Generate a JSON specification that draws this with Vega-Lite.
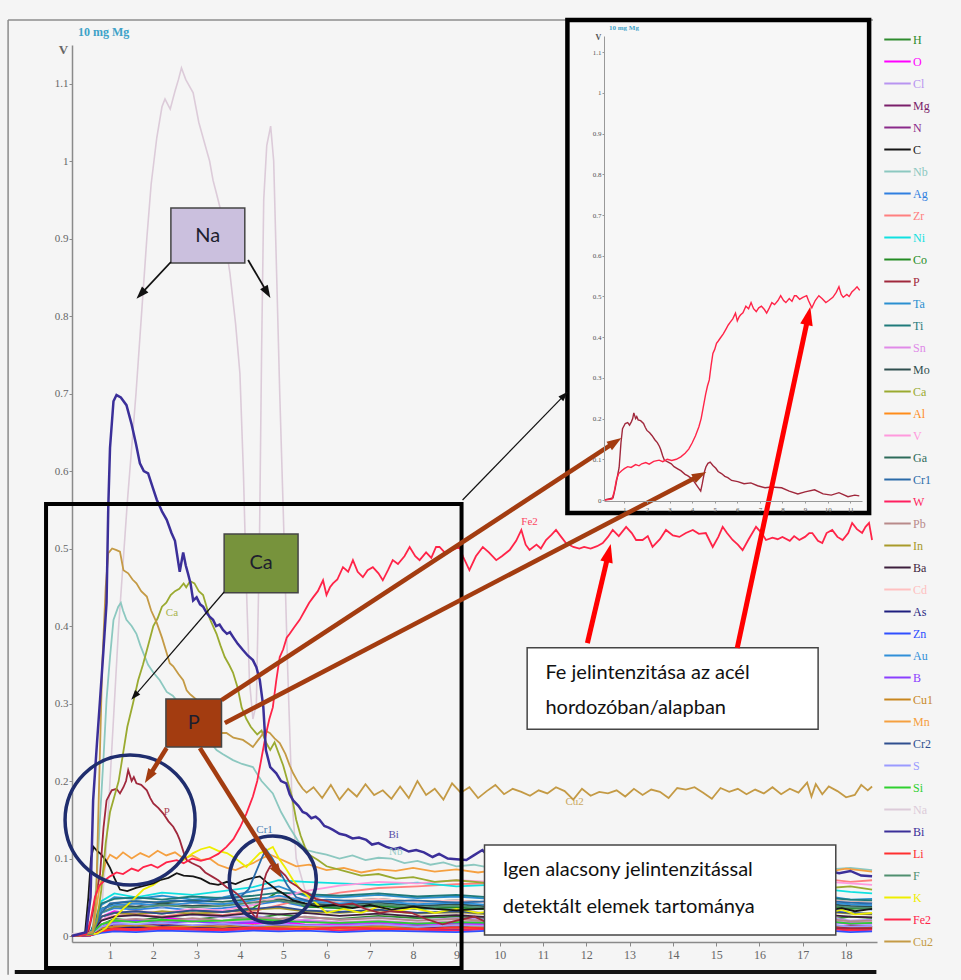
{
"$schema":"https://vega.github.io/schema/vega-lite/v6.json",
"width":805,"height":897,
"autosize":{"type":"none"},
"padding":{"left":72,"top":45,"right":84,"bottom":38},
"background":"#f5f5f5",
"config":{"view":{"stroke":null}},
"datasets":{
"profiles":[
{"el":"H","x":0.12,"v":0},{"el":"H","x":0.55,"v":0.002},{"el":"H","x":0.8,"v":0.015},{"el":"H","x":1.1,"v":0.022},{"el":"H","x":1.6,"v":0.02},{"el":"H","x":2.2,"v":0.024},{"el":"H","x":2.9,"v":0.021},{"el":"H","x":3.6,"v":0.025},{"el":"H","x":4.3,"v":0.022},{"el":"H","x":4.9,"v":0.028},{"el":"H","x":5.5,"v":0.024},{"el":"H","x":6.3,"v":0.022},{"el":"H","x":7.2,"v":0.026},{"el":"H","x":8.1,"v":0.023},{"el":"H","x":9.0,"v":0.025},{"el":"H","x":9.8,"v":0.022},{"el":"H","x":13.5,"v":0.024},{"el":"H","x":17.6,"v":0.021},{"el":"H","x":18.1,"v":0.025},{"el":"H","x":18.6,"v":0.023},
{"el":"O","x":0.12,"v":0},{"el":"O","x":0.55,"v":0.005},{"el":"O","x":0.8,"v":0.025},{"el":"O","x":1.1,"v":0.032},{"el":"O","x":1.6,"v":0.028},{"el":"O","x":2.2,"v":0.024},{"el":"O","x":2.9,"v":0.02},{"el":"O","x":3.6,"v":0.018},{"el":"O","x":4.3,"v":0.016},{"el":"O","x":4.9,"v":0.018},{"el":"O","x":5.5,"v":0.015},{"el":"O","x":6.3,"v":0.014},{"el":"O","x":7.2,"v":0.016},{"el":"O","x":8.1,"v":0.013},{"el":"O","x":9.0,"v":0.015},{"el":"O","x":9.8,"v":0.014},{"el":"O","x":13.5,"v":0.013},{"el":"O","x":17.6,"v":0.012},{"el":"O","x":18.1,"v":0.014},{"el":"O","x":18.6,"v":0.012},
{"el":"Cl","x":0.12,"v":0},{"el":"Cl","x":0.55,"v":0.003},{"el":"Cl","x":0.8,"v":0.02},{"el":"Cl","x":1.1,"v":0.03},{"el":"Cl","x":1.6,"v":0.027},{"el":"Cl","x":2.2,"v":0.025},{"el":"Cl","x":2.9,"v":0.028},{"el":"Cl","x":3.6,"v":0.024},{"el":"Cl","x":4.3,"v":0.026},{"el":"Cl","x":4.9,"v":0.022},{"el":"Cl","x":5.5,"v":0.025},{"el":"Cl","x":6.3,"v":0.021},{"el":"Cl","x":7.2,"v":0.024},{"el":"Cl","x":8.1,"v":0.02},{"el":"Cl","x":9.0,"v":0.023},{"el":"Cl","x":9.8,"v":0.021},{"el":"Cl","x":13.5,"v":0.022},{"el":"Cl","x":17.6,"v":0.024},{"el":"Cl","x":18.1,"v":0.02},{"el":"Cl","x":18.6,"v":0.021},
{"el":"Mg","x":0.12,"v":0},{"el":"Mg","x":0.55,"v":0.002},{"el":"Mg","x":0.8,"v":0.01},{"el":"Mg","x":1.1,"v":0.015},{"el":"Mg","x":1.6,"v":0.014},{"el":"Mg","x":2.2,"v":0.016},{"el":"Mg","x":2.9,"v":0.013},{"el":"Mg","x":3.6,"v":0.015},{"el":"Mg","x":4.3,"v":0.012},{"el":"Mg","x":4.9,"v":0.014},{"el":"Mg","x":5.5,"v":0.013},{"el":"Mg","x":6.3,"v":0.012},{"el":"Mg","x":7.2,"v":0.014},{"el":"Mg","x":8.1,"v":0.011},{"el":"Mg","x":9.0,"v":0.013},{"el":"Mg","x":9.8,"v":0.012},{"el":"Mg","x":13.5,"v":0.012},{"el":"Mg","x":17.6,"v":0.011},{"el":"Mg","x":18.1,"v":0.013},{"el":"Mg","x":18.6,"v":0.012},
{"el":"N","x":0.12,"v":0},{"el":"N","x":0.55,"v":0.001},{"el":"N","x":0.8,"v":0.006},{"el":"N","x":1.1,"v":0.01},{"el":"N","x":1.6,"v":0.009},{"el":"N","x":2.2,"v":0.011},{"el":"N","x":2.9,"v":0.01},{"el":"N","x":3.6,"v":0.008},{"el":"N","x":4.3,"v":0.01},{"el":"N","x":4.9,"v":0.009},{"el":"N","x":5.5,"v":0.011},{"el":"N","x":6.3,"v":0.008},{"el":"N","x":7.2,"v":0.01},{"el":"N","x":8.1,"v":0.009},{"el":"N","x":9.0,"v":0.008},{"el":"N","x":9.8,"v":0.01},{"el":"N","x":13.5,"v":0.009},{"el":"N","x":17.6,"v":0.01},{"el":"N","x":18.1,"v":0.008},{"el":"N","x":18.6,"v":0.009},
{"el":"Ag","x":0.12,"v":0},{"el":"Ag","x":0.55,"v":0.003},{"el":"Ag","x":0.8,"v":0.03},{"el":"Ag","x":1.1,"v":0.036},{"el":"Ag","x":1.6,"v":0.034},{"el":"Ag","x":2.2,"v":0.037},{"el":"Ag","x":2.9,"v":0.033},{"el":"Ag","x":3.6,"v":0.036},{"el":"Ag","x":4.3,"v":0.04},{"el":"Ag","x":4.9,"v":0.045},{"el":"Ag","x":5.5,"v":0.038},{"el":"Ag","x":6.3,"v":0.036},{"el":"Ag","x":7.2,"v":0.039},{"el":"Ag","x":8.1,"v":0.035},{"el":"Ag","x":9.0,"v":0.037},{"el":"Ag","x":9.8,"v":0.034},{"el":"Ag","x":13.5,"v":0.036},{"el":"Ag","x":17.6,"v":0.035},{"el":"Ag","x":18.1,"v":0.037},{"el":"Ag","x":18.6,"v":0.034},
{"el":"Zr","x":0.12,"v":0},{"el":"Zr","x":0.55,"v":0.002},{"el":"Zr","x":0.8,"v":0.02},{"el":"Zr","x":1.1,"v":0.026},{"el":"Zr","x":1.6,"v":0.028},{"el":"Zr","x":2.2,"v":0.025},{"el":"Zr","x":2.9,"v":0.03},{"el":"Zr","x":3.6,"v":0.027},{"el":"Zr","x":4.3,"v":0.032},{"el":"Zr","x":4.9,"v":0.04},{"el":"Zr","x":5.5,"v":0.048},{"el":"Zr","x":6.3,"v":0.056},{"el":"Zr","x":7.2,"v":0.062},{"el":"Zr","x":8.1,"v":0.064},{"el":"Zr","x":9.0,"v":0.067},{"el":"Zr","x":9.8,"v":0.068},{"el":"Zr","x":13.5,"v":0.07},{"el":"Zr","x":17.6,"v":0.073},{"el":"Zr","x":18.1,"v":0.07},{"el":"Zr","x":18.6,"v":0.072},
{"el":"Ni","x":0.12,"v":0},{"el":"Ni","x":0.55,"v":0.004},{"el":"Ni","x":0.8,"v":0.045},{"el":"Ni","x":1.1,"v":0.055},{"el":"Ni","x":1.6,"v":0.05},{"el":"Ni","x":2.2,"v":0.056},{"el":"Ni","x":2.9,"v":0.053},{"el":"Ni","x":3.6,"v":0.058},{"el":"Ni","x":4.3,"v":0.063},{"el":"Ni","x":4.9,"v":0.072},{"el":"Ni","x":5.5,"v":0.07},{"el":"Ni","x":6.3,"v":0.068},{"el":"Ni","x":7.2,"v":0.066},{"el":"Ni","x":8.1,"v":0.069},{"el":"Ni","x":9.0,"v":0.064},{"el":"Ni","x":9.8,"v":0.066},{"el":"Ni","x":13.5,"v":0.062},{"el":"Ni","x":17.6,"v":0.06},{"el":"Ni","x":18.1,"v":0.057},{"el":"Ni","x":18.6,"v":0.055},
{"el":"Co","x":0.12,"v":0},{"el":"Co","x":0.55,"v":0.003},{"el":"Co","x":0.8,"v":0.025},{"el":"Co","x":1.1,"v":0.03},{"el":"Co","x":1.6,"v":0.032},{"el":"Co","x":2.2,"v":0.029},{"el":"Co","x":2.9,"v":0.033},{"el":"Co","x":3.6,"v":0.031},{"el":"Co","x":4.3,"v":0.036},{"el":"Co","x":4.9,"v":0.058},{"el":"Co","x":5.5,"v":0.038},{"el":"Co","x":6.3,"v":0.036},{"el":"Co","x":7.2,"v":0.039},{"el":"Co","x":8.1,"v":0.035},{"el":"Co","x":9.0,"v":0.037},{"el":"Co","x":9.8,"v":0.034},{"el":"Co","x":13.5,"v":0.036},{"el":"Co","x":17.6,"v":0.038},{"el":"Co","x":18.1,"v":0.035},{"el":"Co","x":18.6,"v":0.036},
{"el":"Ta","x":0.12,"v":0},{"el":"Ta","x":0.55,"v":0.004},{"el":"Ta","x":0.8,"v":0.04},{"el":"Ta","x":1.1,"v":0.05},{"el":"Ta","x":1.6,"v":0.048},{"el":"Ta","x":2.2,"v":0.052},{"el":"Ta","x":2.9,"v":0.047},{"el":"Ta","x":3.6,"v":0.05},{"el":"Ta","x":4.3,"v":0.058},{"el":"Ta","x":4.9,"v":0.064},{"el":"Ta","x":5.5,"v":0.052},{"el":"Ta","x":6.3,"v":0.05},{"el":"Ta","x":7.2,"v":0.053},{"el":"Ta","x":8.1,"v":0.049},{"el":"Ta","x":9.0,"v":0.051},{"el":"Ta","x":9.8,"v":0.048},{"el":"Ta","x":13.5,"v":0.05},{"el":"Ta","x":17.6,"v":0.051},{"el":"Ta","x":18.1,"v":0.047},{"el":"Ta","x":18.6,"v":0.048},
{"el":"Ti","x":0.12,"v":0},{"el":"Ti","x":0.55,"v":0.004},{"el":"Ti","x":0.8,"v":0.042},{"el":"Ti","x":1.1,"v":0.048},{"el":"Ti","x":1.6,"v":0.05},{"el":"Ti","x":2.2,"v":0.047},{"el":"Ti","x":2.9,"v":0.051},{"el":"Ti","x":3.6,"v":0.049},{"el":"Ti","x":4.3,"v":0.052},{"el":"Ti","x":4.9,"v":0.056},{"el":"Ti","x":5.5,"v":0.054},{"el":"Ti","x":6.3,"v":0.052},{"el":"Ti","x":7.2,"v":0.055},{"el":"Ti","x":8.1,"v":0.051},{"el":"Ti","x":9.0,"v":0.053},{"el":"Ti","x":9.8,"v":0.05},{"el":"Ti","x":13.5,"v":0.052},{"el":"Ti","x":17.6,"v":0.049},{"el":"Ti","x":18.1,"v":0.047},{"el":"Ti","x":18.6,"v":0.046},
{"el":"Sn","x":0.12,"v":0},{"el":"Sn","x":0.55,"v":0.002},{"el":"Sn","x":0.8,"v":0.015},{"el":"Sn","x":1.1,"v":0.02},{"el":"Sn","x":1.6,"v":0.022},{"el":"Sn","x":2.2,"v":0.019},{"el":"Sn","x":2.9,"v":0.021},{"el":"Sn","x":3.6,"v":0.018},{"el":"Sn","x":4.3,"v":0.02},{"el":"Sn","x":4.9,"v":0.019},{"el":"Sn","x":5.5,"v":0.021},{"el":"Sn","x":6.3,"v":0.018},{"el":"Sn","x":7.2,"v":0.02},{"el":"Sn","x":8.1,"v":0.017},{"el":"Sn","x":9.0,"v":0.019},{"el":"Sn","x":9.8,"v":0.018},{"el":"Sn","x":13.5,"v":0.019},{"el":"Sn","x":17.6,"v":0.02},{"el":"Sn","x":18.1,"v":0.017},{"el":"Sn","x":18.6,"v":0.018},
{"el":"Mo","x":0.12,"v":0},{"el":"Mo","x":0.55,"v":0.003},{"el":"Mo","x":0.8,"v":0.035},{"el":"Mo","x":1.1,"v":0.04},{"el":"Mo","x":1.6,"v":0.038},{"el":"Mo","x":2.2,"v":0.042},{"el":"Mo","x":2.9,"v":0.039},{"el":"Mo","x":3.6,"v":0.041},{"el":"Mo","x":4.3,"v":0.044},{"el":"Mo","x":4.9,"v":0.048},{"el":"Mo","x":5.5,"v":0.042},{"el":"Mo","x":6.3,"v":0.04},{"el":"Mo","x":7.2,"v":0.043},{"el":"Mo","x":8.1,"v":0.039},{"el":"Mo","x":9.0,"v":0.041},{"el":"Mo","x":9.8,"v":0.038},{"el":"Mo","x":13.5,"v":0.04},{"el":"Mo","x":17.6,"v":0.041},{"el":"Mo","x":18.1,"v":0.039},{"el":"Mo","x":18.6,"v":0.038},
{"el":"Al","x":0.12,"v":0},{"el":"Al","x":0.55,"v":0.002},{"el":"Al","x":0.8,"v":0.008},{"el":"Al","x":1.1,"v":0.01},{"el":"Al","x":1.6,"v":0.012},{"el":"Al","x":2.2,"v":0.009},{"el":"Al","x":2.9,"v":0.011},{"el":"Al","x":3.6,"v":0.01},{"el":"Al","x":4.3,"v":0.012},{"el":"Al","x":4.9,"v":0.01},{"el":"Al","x":5.5,"v":0.011},{"el":"Al","x":6.3,"v":0.009},{"el":"Al","x":7.2,"v":0.011},{"el":"Al","x":8.1,"v":0.01},{"el":"Al","x":9.0,"v":0.012},{"el":"Al","x":9.8,"v":0.009},{"el":"Al","x":13.5,"v":0.011},{"el":"Al","x":17.6,"v":0.012},{"el":"Al","x":18.1,"v":0.01},{"el":"Al","x":18.6,"v":0.01},
{"el":"V","x":0.12,"v":0},{"el":"V","x":0.55,"v":0.002},{"el":"V","x":0.8,"v":0.02},{"el":"V","x":1.1,"v":0.03},{"el":"V","x":1.6,"v":0.032},{"el":"V","x":2.2,"v":0.03},{"el":"V","x":2.9,"v":0.035},{"el":"V","x":3.6,"v":0.033},{"el":"V","x":4.3,"v":0.04},{"el":"V","x":4.9,"v":0.05},{"el":"V","x":5.5,"v":0.058},{"el":"V","x":6.3,"v":0.065},{"el":"V","x":7.2,"v":0.07},{"el":"V","x":8.1,"v":0.068},{"el":"V","x":9.0,"v":0.072},{"el":"V","x":9.8,"v":0.07},{"el":"V","x":13.5,"v":0.072},{"el":"V","x":17.6,"v":0.07},{"el":"V","x":18.1,"v":0.068},{"el":"V","x":18.6,"v":0.066},
{"el":"Ga","x":0.12,"v":0},{"el":"Ga","x":0.55,"v":0.003},{"el":"Ga","x":0.8,"v":0.035},{"el":"Ga","x":1.1,"v":0.042},{"el":"Ga","x":1.6,"v":0.045},{"el":"Ga","x":2.2,"v":0.043},{"el":"Ga","x":2.9,"v":0.046},{"el":"Ga","x":3.6,"v":0.044},{"el":"Ga","x":4.3,"v":0.048},{"el":"Ga","x":4.9,"v":0.05},{"el":"Ga","x":5.5,"v":0.047},{"el":"Ga","x":6.3,"v":0.045},{"el":"Ga","x":7.2,"v":0.048},{"el":"Ga","x":8.1,"v":0.044},{"el":"Ga","x":9.0,"v":0.046},{"el":"Ga","x":9.8,"v":0.043},{"el":"Ga","x":13.5,"v":0.045},{"el":"Ga","x":17.6,"v":0.046},{"el":"Ga","x":18.1,"v":0.044},{"el":"Ga","x":18.6,"v":0.043},
{"el":"W","x":0.12,"v":0},{"el":"W","x":0.55,"v":0.001},{"el":"W","x":0.8,"v":0.005},{"el":"W","x":1.1,"v":0.008},{"el":"W","x":1.6,"v":0.007},{"el":"W","x":2.2,"v":0.009},{"el":"W","x":2.9,"v":0.008},{"el":"W","x":3.6,"v":0.007},{"el":"W","x":4.3,"v":0.009},{"el":"W","x":4.9,"v":0.008},{"el":"W","x":5.5,"v":0.01},{"el":"W","x":6.3,"v":0.007},{"el":"W","x":7.2,"v":0.009},{"el":"W","x":8.1,"v":0.008},{"el":"W","x":9.0,"v":0.007},{"el":"W","x":9.8,"v":0.009},{"el":"W","x":13.5,"v":0.008},{"el":"W","x":17.6,"v":0.009},{"el":"W","x":18.1,"v":0.007},{"el":"W","x":18.6,"v":0.008},
{"el":"Pb","x":0.12,"v":0},{"el":"Pb","x":0.55,"v":0.002},{"el":"Pb","x":0.8,"v":0.015},{"el":"Pb","x":1.1,"v":0.02},{"el":"Pb","x":1.6,"v":0.022},{"el":"Pb","x":2.2,"v":0.019},{"el":"Pb","x":2.9,"v":0.023},{"el":"Pb","x":3.6,"v":0.02},{"el":"Pb","x":4.3,"v":0.024},{"el":"Pb","x":4.9,"v":0.022},{"el":"Pb","x":5.5,"v":0.025},{"el":"Pb","x":6.3,"v":0.021},{"el":"Pb","x":7.2,"v":0.023},{"el":"Pb","x":8.1,"v":0.02},{"el":"Pb","x":9.0,"v":0.022},{"el":"Pb","x":9.8,"v":0.019},{"el":"Pb","x":13.5,"v":0.021},{"el":"Pb","x":17.6,"v":0.022},{"el":"Pb","x":18.1,"v":0.019},{"el":"Pb","x":18.6,"v":0.02},
{"el":"In","x":0.12,"v":0},{"el":"In","x":0.55,"v":0.003},{"el":"In","x":0.8,"v":0.025},{"el":"In","x":1.1,"v":0.03},{"el":"In","x":1.6,"v":0.028},{"el":"In","x":2.2,"v":0.032},{"el":"In","x":2.9,"v":0.029},{"el":"In","x":3.6,"v":0.031},{"el":"In","x":4.3,"v":0.034},{"el":"In","x":4.9,"v":0.036},{"el":"In","x":5.5,"v":0.032},{"el":"In","x":6.3,"v":0.03},{"el":"In","x":7.2,"v":0.033},{"el":"In","x":8.1,"v":0.029},{"el":"In","x":9.0,"v":0.031},{"el":"In","x":9.8,"v":0.028},{"el":"In","x":13.5,"v":0.03},{"el":"In","x":17.6,"v":0.031},{"el":"In","x":18.1,"v":0.029},{"el":"In","x":18.6,"v":0.028},
{"el":"Ba","x":0.12,"v":0},{"el":"Ba","x":0.55,"v":0.002},{"el":"Ba","x":0.8,"v":0.02},{"el":"Ba","x":1.1,"v":0.025},{"el":"Ba","x":1.6,"v":0.027},{"el":"Ba","x":2.2,"v":0.024},{"el":"Ba","x":2.9,"v":0.028},{"el":"Ba","x":3.6,"v":0.026},{"el":"Ba","x":4.3,"v":0.03},{"el":"Ba","x":4.9,"v":0.028},{"el":"Ba","x":5.5,"v":0.03},{"el":"Ba","x":6.3,"v":0.026},{"el":"Ba","x":7.2,"v":0.029},{"el":"Ba","x":8.1,"v":0.025},{"el":"Ba","x":9.0,"v":0.027},{"el":"Ba","x":9.8,"v":0.024},{"el":"Ba","x":13.5,"v":0.026},{"el":"Ba","x":17.6,"v":0.027},{"el":"Ba","x":18.1,"v":0.025},{"el":"Ba","x":18.6,"v":0.024},
{"el":"Cd","x":0.12,"v":0},{"el":"Cd","x":0.55,"v":0.003},{"el":"Cd","x":0.8,"v":0.03},{"el":"Cd","x":1.1,"v":0.04},{"el":"Cd","x":1.6,"v":0.042},{"el":"Cd","x":2.2,"v":0.038},{"el":"Cd","x":2.9,"v":0.043},{"el":"Cd","x":3.6,"v":0.04},{"el":"Cd","x":4.3,"v":0.045},{"el":"Cd","x":4.9,"v":0.05},{"el":"Cd","x":5.5,"v":0.048},{"el":"Cd","x":6.3,"v":0.045},{"el":"Cd","x":7.2,"v":0.048},{"el":"Cd","x":8.1,"v":0.044},{"el":"Cd","x":9.0,"v":0.046},{"el":"Cd","x":9.8,"v":0.043},{"el":"Cd","x":13.5,"v":0.045},{"el":"Cd","x":17.6,"v":0.046},{"el":"Cd","x":18.1,"v":0.044},{"el":"Cd","x":18.6,"v":0.043},
{"el":"As","x":0.12,"v":0},{"el":"As","x":0.55,"v":0.001},{"el":"As","x":0.8,"v":0.008},{"el":"As","x":1.1,"v":0.012},{"el":"As","x":1.6,"v":0.011},{"el":"As","x":2.2,"v":0.013},{"el":"As","x":2.9,"v":0.012},{"el":"As","x":3.6,"v":0.01},{"el":"As","x":4.3,"v":0.013},{"el":"As","x":4.9,"v":0.012},{"el":"As","x":5.5,"v":0.014},{"el":"As","x":6.3,"v":0.011},{"el":"As","x":7.2,"v":0.013},{"el":"As","x":8.1,"v":0.012},{"el":"As","x":9.0,"v":0.011},{"el":"As","x":9.8,"v":0.013},{"el":"As","x":13.5,"v":0.012},{"el":"As","x":17.6,"v":0.013},{"el":"As","x":18.1,"v":0.011},{"el":"As","x":18.6,"v":0.012},
{"el":"Zn","x":0.12,"v":0},{"el":"Zn","x":0.55,"v":0.001},{"el":"Zn","x":0.8,"v":0.004},{"el":"Zn","x":1.1,"v":0.006},{"el":"Zn","x":1.6,"v":0.005},{"el":"Zn","x":2.2,"v":0.007},{"el":"Zn","x":2.9,"v":0.006},{"el":"Zn","x":3.6,"v":0.005},{"el":"Zn","x":4.3,"v":0.007},{"el":"Zn","x":4.9,"v":0.006},{"el":"Zn","x":5.5,"v":0.007},{"el":"Zn","x":6.3,"v":0.005},{"el":"Zn","x":7.2,"v":0.007},{"el":"Zn","x":8.1,"v":0.006},{"el":"Zn","x":9.0,"v":0.005},{"el":"Zn","x":9.8,"v":0.007},{"el":"Zn","x":13.5,"v":0.006},{"el":"Zn","x":17.6,"v":0.007},{"el":"Zn","x":18.1,"v":0.005},{"el":"Zn","x":18.6,"v":0.006},
{"el":"Au","x":0.12,"v":0},{"el":"Au","x":0.55,"v":0.003},{"el":"Au","x":0.8,"v":0.035},{"el":"Au","x":1.1,"v":0.04},{"el":"Au","x":1.6,"v":0.042},{"el":"Au","x":2.2,"v":0.039},{"el":"Au","x":2.9,"v":0.043},{"el":"Au","x":3.6,"v":0.041},{"el":"Au","x":4.3,"v":0.046},{"el":"Au","x":4.9,"v":0.052},{"el":"Au","x":5.5,"v":0.045},{"el":"Au","x":6.3,"v":0.042},{"el":"Au","x":7.2,"v":0.045},{"el":"Au","x":8.1,"v":0.041},{"el":"Au","x":9.0,"v":0.043},{"el":"Au","x":9.8,"v":0.04},{"el":"Au","x":13.5,"v":0.042},{"el":"Au","x":17.6,"v":0.043},{"el":"Au","x":18.1,"v":0.041},{"el":"Au","x":18.6,"v":0.04},
{"el":"B","x":0.12,"v":0},{"el":"B","x":0.55,"v":0.002},{"el":"B","x":0.8,"v":0.012},{"el":"B","x":1.1,"v":0.018},{"el":"B","x":1.6,"v":0.02},{"el":"B","x":2.2,"v":0.017},{"el":"B","x":2.9,"v":0.019},{"el":"B","x":3.6,"v":0.016},{"el":"B","x":4.3,"v":0.018},{"el":"B","x":4.9,"v":0.017},{"el":"B","x":5.5,"v":0.019},{"el":"B","x":6.3,"v":0.016},{"el":"B","x":7.2,"v":0.018},{"el":"B","x":8.1,"v":0.015},{"el":"B","x":9.0,"v":0.017},{"el":"B","x":9.8,"v":0.016},{"el":"B","x":13.5,"v":0.017},{"el":"B","x":17.6,"v":0.018},{"el":"B","x":18.1,"v":0.016},{"el":"B","x":18.6,"v":0.016},
{"el":"Cu1","x":0.12,"v":0},{"el":"Cu1","x":0.55,"v":0.002},{"el":"Cu1","x":0.8,"v":0.01},{"el":"Cu1","x":1.1,"v":0.012},{"el":"Cu1","x":1.6,"v":0.014},{"el":"Cu1","x":2.2,"v":0.011},{"el":"Cu1","x":2.9,"v":0.013},{"el":"Cu1","x":3.6,"v":0.012},{"el":"Cu1","x":4.3,"v":0.014},{"el":"Cu1","x":4.9,"v":0.012},{"el":"Cu1","x":5.5,"v":0.013},{"el":"Cu1","x":6.3,"v":0.011},{"el":"Cu1","x":7.2,"v":0.013},{"el":"Cu1","x":8.1,"v":0.012},{"el":"Cu1","x":9.0,"v":0.014},{"el":"Cu1","x":9.8,"v":0.011},{"el":"Cu1","x":13.5,"v":0.013},{"el":"Cu1","x":17.6,"v":0.014},{"el":"Cu1","x":18.1,"v":0.012},{"el":"Cu1","x":18.6,"v":0.012},
{"el":"Cr2","x":0.12,"v":0},{"el":"Cr2","x":0.55,"v":0.003},{"el":"Cr2","x":0.8,"v":0.025},{"el":"Cr2","x":1.1,"v":0.03},{"el":"Cr2","x":1.6,"v":0.032},{"el":"Cr2","x":2.2,"v":0.029},{"el":"Cr2","x":2.9,"v":0.033},{"el":"Cr2","x":3.6,"v":0.031},{"el":"Cr2","x":4.3,"v":0.035},{"el":"Cr2","x":4.9,"v":0.038},{"el":"Cr2","x":5.5,"v":0.033},{"el":"Cr2","x":6.3,"v":0.031},{"el":"Cr2","x":7.2,"v":0.034},{"el":"Cr2","x":8.1,"v":0.03},{"el":"Cr2","x":9.0,"v":0.032},{"el":"Cr2","x":9.8,"v":0.029},{"el":"Cr2","x":13.5,"v":0.031},{"el":"Cr2","x":17.6,"v":0.032},{"el":"Cr2","x":18.1,"v":0.03},{"el":"Cr2","x":18.6,"v":0.029},
{"el":"S","x":0.12,"v":0},{"el":"S","x":0.55,"v":0.002},{"el":"S","x":0.8,"v":0.012},{"el":"S","x":1.1,"v":0.016},{"el":"S","x":1.6,"v":0.015},{"el":"S","x":2.2,"v":0.017},{"el":"S","x":2.9,"v":0.014},{"el":"S","x":3.6,"v":0.016},{"el":"S","x":4.3,"v":0.013},{"el":"S","x":4.9,"v":0.015},{"el":"S","x":5.5,"v":0.014},{"el":"S","x":6.3,"v":0.013},{"el":"S","x":7.2,"v":0.015},{"el":"S","x":8.1,"v":0.012},{"el":"S","x":9.0,"v":0.014},{"el":"S","x":9.8,"v":0.013},{"el":"S","x":13.5,"v":0.014},{"el":"S","x":17.6,"v":0.015},{"el":"S","x":18.1,"v":0.012},{"el":"S","x":18.6,"v":0.013},
{"el":"Si","x":0.12,"v":0},{"el":"Si","x":0.55,"v":0.002},{"el":"Si","x":0.8,"v":0.015},{"el":"Si","x":1.1,"v":0.02},{"el":"Si","x":1.6,"v":0.018},{"el":"Si","x":2.2,"v":0.021},{"el":"Si","x":2.9,"v":0.019},{"el":"Si","x":3.6,"v":0.02},{"el":"Si","x":4.3,"v":0.022},{"el":"Si","x":4.9,"v":0.02},{"el":"Si","x":5.5,"v":0.018},{"el":"Si","x":6.3,"v":0.017},{"el":"Si","x":7.2,"v":0.019},{"el":"Si","x":8.1,"v":0.016},{"el":"Si","x":9.0,"v":0.018},{"el":"Si","x":9.8,"v":0.017},{"el":"Si","x":13.5,"v":0.018},{"el":"Si","x":17.6,"v":0.019},{"el":"Si","x":18.1,"v":0.016},{"el":"Si","x":18.6,"v":0.017},
{"el":"Li","x":0.12,"v":0},{"el":"Li","x":0.55,"v":0.001},{"el":"Li","x":0.8,"v":0.006},{"el":"Li","x":1.1,"v":0.01},{"el":"Li","x":1.6,"v":0.009},{"el":"Li","x":2.2,"v":0.011},{"el":"Li","x":2.9,"v":0.01},{"el":"Li","x":3.6,"v":0.009},{"el":"Li","x":4.3,"v":0.011},{"el":"Li","x":4.9,"v":0.01},{"el":"Li","x":5.5,"v":0.009},{"el":"Li","x":6.3,"v":0.011},{"el":"Li","x":7.2,"v":0.01},{"el":"Li","x":8.1,"v":0.009},{"el":"Li","x":9.0,"v":0.011},{"el":"Li","x":9.8,"v":0.01},{"el":"Li","x":13.5,"v":0.01},{"el":"Li","x":17.6,"v":0.011},{"el":"Li","x":18.1,"v":0.009},{"el":"Li","x":18.6,"v":0.01},
{"el":"F","x":0.12,"v":0},{"el":"F","x":0.55,"v":0.003},{"el":"F","x":0.8,"v":0.03},{"el":"F","x":1.1,"v":0.038},{"el":"F","x":1.6,"v":0.036},{"el":"F","x":2.2,"v":0.04},{"el":"F","x":2.9,"v":0.037},{"el":"F","x":3.6,"v":0.039},{"el":"F","x":4.3,"v":0.043},{"el":"F","x":4.9,"v":0.046},{"el":"F","x":5.5,"v":0.04},{"el":"F","x":6.3,"v":0.038},{"el":"F","x":7.2,"v":0.041},{"el":"F","x":8.1,"v":0.037},{"el":"F","x":9.0,"v":0.039},{"el":"F","x":9.8,"v":0.036},{"el":"F","x":13.5,"v":0.038},{"el":"F","x":17.6,"v":0.039},{"el":"F","x":18.1,"v":0.037},{"el":"F","x":18.6,"v":0.036},
{"el":"Nb","x":0.12,"v":0},{"el":"Nb","x":0.6,"v":0.005},{"el":"Nb","x":0.7,"v":0.08},{"el":"Nb","x":0.77,"v":0.154},{"el":"Nb","x":0.85,"v":0.23},{"el":"Nb","x":0.92,"v":0.305},{"el":"Nb","x":1.0,"v":0.36},{"el":"Nb","x":1.08,"v":0.408},{"el":"Nb","x":1.19,"v":0.425},{"el":"Nb","x":1.25,"v":0.43},{"el":"Nb","x":1.3,"v":0.42},{"el":"Nb","x":1.38,"v":0.408},{"el":"Nb","x":1.5,"v":0.4},{"el":"Nb","x":1.61,"v":0.39},{"el":"Nb","x":1.7,"v":0.375},{"el":"Nb","x":1.77,"v":0.365},{"el":"Nb","x":1.88,"v":0.35},{"el":"Nb","x":2.0,"v":0.34},{"el":"Nb","x":2.15,"v":0.33},{"el":"Nb","x":2.31,"v":0.315},{"el":"Nb","x":2.45,"v":0.31},{"el":"Nb","x":2.6,"v":0.3},{"el":"Nb","x":2.77,"v":0.296},{"el":"Nb","x":2.9,"v":0.285},{"el":"Nb","x":3.08,"v":0.27},{"el":"Nb","x":3.25,"v":0.255},{"el":"Nb","x":3.46,"v":0.24},{"el":"Nb","x":3.6,"v":0.235},{"el":"Nb","x":3.84,"v":0.227},{"el":"Nb","x":4.05,"v":0.222},{"el":"Nb","x":4.3,"v":0.218},{"el":"Nb","x":4.5,"v":0.2},{"el":"Nb","x":4.76,"v":0.184},{"el":"Nb","x":4.95,"v":0.16},{"el":"Nb","x":5.15,"v":0.14},{"el":"Nb","x":5.35,"v":0.122},{"el":"Nb","x":5.54,"v":0.111},{"el":"Nb","x":5.75,"v":0.108},{"el":"Nb","x":6.0,"v":0.105},{"el":"Nb","x":6.3,"v":0.1},{"el":"Nb","x":6.6,"v":0.104},{"el":"Nb","x":6.9,"v":0.098},{"el":"Nb","x":7.2,"v":0.101},{"el":"Nb","x":7.5,"v":0.1},{"el":"Nb","x":7.8,"v":0.094},{"el":"Nb","x":8.1,"v":0.097},{"el":"Nb","x":8.4,"v":0.092},{"el":"Nb","x":8.7,"v":0.095},{"el":"Nb","x":9.0,"v":0.09},{"el":"Nb","x":9.4,"v":0.092},{"el":"Nb","x":9.8,"v":0.088},{"el":"Nb","x":13.5,"v":0.087},{"el":"Nb","x":17.6,"v":0.086},{"el":"Nb","x":18.1,"v":0.088},{"el":"Nb","x":18.6,"v":0.085},
{"el":"Mn","x":0.12,"v":0},{"el":"Mn","x":0.6,"v":0.005},{"el":"Mn","x":0.75,"v":0.06},{"el":"Mn","x":0.9,"v":0.095},{"el":"Mn","x":1.0,"v":0.105},{"el":"Mn","x":1.15,"v":0.1},{"el":"Mn","x":1.3,"v":0.108},{"el":"Mn","x":1.5,"v":0.1},{"el":"Mn","x":1.7,"v":0.107},{"el":"Mn","x":1.9,"v":0.102},{"el":"Mn","x":2.1,"v":0.11},{"el":"Mn","x":2.3,"v":0.104},{"el":"Mn","x":2.5,"v":0.108},{"el":"Mn","x":2.7,"v":0.1},{"el":"Mn","x":2.9,"v":0.104},{"el":"Mn","x":3.1,"v":0.098},{"el":"Mn","x":3.3,"v":0.1},{"el":"Mn","x":3.5,"v":0.092},{"el":"Mn","x":3.7,"v":0.088},{"el":"Mn","x":3.9,"v":0.085},{"el":"Mn","x":4.1,"v":0.09},{"el":"Mn","x":4.3,"v":0.094},{"el":"Mn","x":4.5,"v":0.1},{"el":"Mn","x":4.7,"v":0.105},{"el":"Mn","x":4.9,"v":0.1},{"el":"Mn","x":5.1,"v":0.095},{"el":"Mn","x":5.3,"v":0.09},{"el":"Mn","x":5.6,"v":0.092},{"el":"Mn","x":6.0,"v":0.085},{"el":"Mn","x":6.4,"v":0.088},{"el":"Mn","x":6.8,"v":0.082},{"el":"Mn","x":7.2,"v":0.086},{"el":"Mn","x":7.6,"v":0.084},{"el":"Mn","x":8.0,"v":0.088},{"el":"Mn","x":8.5,"v":0.083},{"el":"Mn","x":9.0,"v":0.086},{"el":"Mn","x":9.5,"v":0.082},{"el":"Mn","x":9.9,"v":0.085},{"el":"Mn","x":13.5,"v":0.083},{"el":"Mn","x":17.6,"v":0.083},{"el":"Mn","x":18.0,"v":0.087},{"el":"Mn","x":18.3,"v":0.085},{"el":"Mn","x":18.6,"v":0.083},
{"el":"K","x":0.12,"v":0},{"el":"K","x":0.7,"v":0.003},{"el":"K","x":0.9,"v":0.01},{"el":"K","x":1.0,"v":0.017},{"el":"K","x":1.3,"v":0.035},{"el":"K","x":1.5,"v":0.045},{"el":"K","x":1.77,"v":0.06},{"el":"K","x":2.0,"v":0.066},{"el":"K","x":2.15,"v":0.072},{"el":"K","x":2.4,"v":0.085},{"el":"K","x":2.6,"v":0.095},{"el":"K","x":2.75,"v":0.1},{"el":"K","x":2.92,"v":0.107},{"el":"K","x":3.1,"v":0.112},{"el":"K","x":3.3,"v":0.115},{"el":"K","x":3.5,"v":0.11},{"el":"K","x":3.7,"v":0.107},{"el":"K","x":3.9,"v":0.1},{"el":"K","x":4.15,"v":0.089},{"el":"K","x":4.3,"v":0.098},{"el":"K","x":4.46,"v":0.107},{"el":"K","x":4.6,"v":0.11},{"el":"K","x":4.76,"v":0.115},{"el":"K","x":4.9,"v":0.1},{"el":"K","x":5.05,"v":0.088},{"el":"K","x":5.23,"v":0.072},{"el":"K","x":5.4,"v":0.06},{"el":"K","x":5.6,"v":0.05},{"el":"K","x":5.8,"v":0.04},{"el":"K","x":6.0,"v":0.03},{"el":"K","x":6.4,"v":0.035},{"el":"K","x":6.8,"v":0.03},{"el":"K","x":7.2,"v":0.038},{"el":"K","x":7.6,"v":0.032},{"el":"K","x":8.0,"v":0.036},{"el":"K","x":8.5,"v":0.03},{"el":"K","x":9.0,"v":0.035},{"el":"K","x":9.5,"v":0.03},{"el":"K","x":9.9,"v":0.032},{"el":"K","x":13.5,"v":0.031},{"el":"K","x":17.6,"v":0.03},{"el":"K","x":17.9,"v":0.034},{"el":"K","x":18.2,"v":0.028},{"el":"K","x":18.6,"v":0.03},
{"el":"C","x":0.12,"v":0},{"el":"C","x":0.42,"v":0.002},{"el":"C","x":0.5,"v":0.05},{"el":"C","x":0.56,"v":0.1},{"el":"C","x":0.62,"v":0.115},{"el":"C","x":0.7,"v":0.11},{"el":"C","x":0.8,"v":0.105},{"el":"C","x":0.9,"v":0.098},{"el":"C","x":1.0,"v":0.088},{"el":"C","x":1.1,"v":0.075},{"el":"C","x":1.23,"v":0.06},{"el":"C","x":1.4,"v":0.058},{"el":"C","x":1.6,"v":0.062},{"el":"C","x":1.8,"v":0.065},{"el":"C","x":2.0,"v":0.068},{"el":"C","x":2.15,"v":0.072},{"el":"C","x":2.35,"v":0.075},{"el":"C","x":2.54,"v":0.081},{"el":"C","x":2.7,"v":0.078},{"el":"C","x":2.92,"v":0.077},{"el":"C","x":3.1,"v":0.074},{"el":"C","x":3.3,"v":0.068},{"el":"C","x":3.5,"v":0.066},{"el":"C","x":3.7,"v":0.07},{"el":"C","x":3.9,"v":0.067},{"el":"C","x":4.1,"v":0.072},{"el":"C","x":4.3,"v":0.075},{"el":"C","x":4.46,"v":0.077},{"el":"C","x":4.65,"v":0.068},{"el":"C","x":4.84,"v":0.06},{"el":"C","x":5.0,"v":0.055},{"el":"C","x":5.23,"v":0.046},{"el":"C","x":5.5,"v":0.042},{"el":"C","x":5.8,"v":0.038},{"el":"C","x":6.2,"v":0.04},{"el":"C","x":6.6,"v":0.036},{"el":"C","x":7.0,"v":0.04},{"el":"C","x":7.5,"v":0.034},{"el":"C","x":8.0,"v":0.038},{"el":"C","x":8.5,"v":0.035},{"el":"C","x":9.0,"v":0.033},{"el":"C","x":9.8,"v":0.036},{"el":"C","x":13.5,"v":0.034},{"el":"C","x":17.6,"v":0.033},{"el":"C","x":17.9,"v":0.036},{"el":"C","x":18.2,"v":0.032},{"el":"C","x":18.6,"v":0.035},
{"el":"Cr1","x":0.12,"v":0},{"el":"Cr1","x":0.6,"v":0.003},{"el":"Cr1","x":0.8,"v":0.03},{"el":"Cr1","x":1.0,"v":0.042},{"el":"Cr1","x":1.5,"v":0.045},{"el":"Cr1","x":2.0,"v":0.043},{"el":"Cr1","x":2.5,"v":0.046},{"el":"Cr1","x":3.0,"v":0.044},{"el":"Cr1","x":3.5,"v":0.048},{"el":"Cr1","x":4.0,"v":0.05},{"el":"Cr1","x":4.2,"v":0.06},{"el":"Cr1","x":4.35,"v":0.08},{"el":"Cr1","x":4.5,"v":0.1},{"el":"Cr1","x":4.6,"v":0.112},{"el":"Cr1","x":4.75,"v":0.1},{"el":"Cr1","x":4.9,"v":0.085},{"el":"Cr1","x":5.1,"v":0.065},{"el":"Cr1","x":5.3,"v":0.05},{"el":"Cr1","x":5.6,"v":0.045},{"el":"Cr1","x":6.0,"v":0.047},{"el":"Cr1","x":7.0,"v":0.044},{"el":"Cr1","x":8.0,"v":0.046},{"el":"Cr1","x":9.0,"v":0.043},{"el":"Cr1","x":9.8,"v":0.045},{"el":"Cr1","x":13.5,"v":0.044},{"el":"Cr1","x":17.6,"v":0.045},{"el":"Cr1","x":18.1,"v":0.043},{"el":"Cr1","x":18.6,"v":0.042},
{"el":"P","x":0.12,"v":0},{"el":"P","x":0.5,"v":0.005},{"el":"P","x":0.6,"v":0.03},{"el":"P","x":0.7,"v":0.06},{"el":"P","x":0.77,"v":0.08},{"el":"P","x":0.85,"v":0.14},{"el":"P","x":0.92,"v":0.175},{"el":"P","x":1.04,"v":0.188},{"el":"P","x":1.15,"v":0.19},{"el":"P","x":1.23,"v":0.184},{"el":"P","x":1.31,"v":0.192},{"el":"P","x":1.37,"v":0.2},{"el":"P","x":1.42,"v":0.214},{"el":"P","x":1.5,"v":0.2},{"el":"P","x":1.55,"v":0.205},{"el":"P","x":1.61,"v":0.197},{"el":"P","x":1.72,"v":0.195},{"el":"P","x":1.85,"v":0.188},{"el":"P","x":1.93,"v":0.178},{"el":"P","x":2.0,"v":0.171},{"el":"P","x":2.12,"v":0.165},{"el":"P","x":2.23,"v":0.158},{"el":"P","x":2.35,"v":0.148},{"el":"P","x":2.46,"v":0.141},{"el":"P","x":2.55,"v":0.132},{"el":"P","x":2.61,"v":0.124},{"el":"P","x":2.7,"v":0.108},{"el":"P","x":2.77,"v":0.098},{"el":"P","x":2.9,"v":0.094},{"el":"P","x":3.08,"v":0.089},{"el":"P","x":3.2,"v":0.082},{"el":"P","x":3.38,"v":0.076},{"el":"P","x":3.5,"v":0.072},{"el":"P","x":3.69,"v":0.063},{"el":"P","x":3.8,"v":0.06},{"el":"P","x":3.92,"v":0.055},{"el":"P","x":4.05,"v":0.048},{"el":"P","x":4.15,"v":0.04},{"el":"P","x":4.25,"v":0.032},{"el":"P","x":4.38,"v":0.022},{"el":"P","x":4.45,"v":0.04},{"el":"P","x":4.55,"v":0.07},{"el":"P","x":4.61,"v":0.081},{"el":"P","x":4.7,"v":0.09},{"el":"P","x":4.8,"v":0.093},{"el":"P","x":4.92,"v":0.085},{"el":"P","x":5.05,"v":0.078},{"el":"P","x":5.15,"v":0.07},{"el":"P","x":5.3,"v":0.065},{"el":"P","x":5.45,"v":0.058},{"el":"P","x":5.58,"v":0.055},{"el":"P","x":5.75,"v":0.048},{"el":"P","x":6.02,"v":0.045},{"el":"P","x":6.3,"v":0.04},{"el":"P","x":6.6,"v":0.042},{"el":"P","x":6.9,"v":0.035},{"el":"P","x":7.23,"v":0.03},{"el":"P","x":7.5,"v":0.032},{"el":"P","x":7.96,"v":0.03},{"el":"P","x":8.3,"v":0.022},{"el":"P","x":8.68,"v":0.015},{"el":"P","x":9.0,"v":0.02},{"el":"P","x":9.42,"v":0.025},{"el":"P","x":9.8,"v":0.015},{"el":"P","x":10.16,"v":0.012},{"el":"P","x":10.5,"v":0.018},{"el":"P","x":10.9,"v":0.008},{"el":"P","x":11.2,"v":0.012},{"el":"P","x":11.4,"v":0.01},{"el":"P","x":12.5,"v":0.012},{"el":"P","x":14.0,"v":0.01},{"el":"P","x":16.0,"v":0.011},{"el":"P","x":18.6,"v":0.01},
{"el":"Ca","x":0.12,"v":0},{"el":"Ca","x":0.6,"v":0.004},{"el":"Ca","x":0.7,"v":0.02},{"el":"Ca","x":0.8,"v":0.06},{"el":"Ca","x":0.9,"v":0.12},{"el":"Ca","x":1.0,"v":0.16},{"el":"Ca","x":1.1,"v":0.18},{"el":"Ca","x":1.2,"v":0.2},{"el":"Ca","x":1.3,"v":0.235},{"el":"Ca","x":1.4,"v":0.27},{"el":"Ca","x":1.53,"v":0.3},{"el":"Ca","x":1.65,"v":0.33},{"el":"Ca","x":1.76,"v":0.35},{"el":"Ca","x":1.88,"v":0.375},{"el":"Ca","x":2.0,"v":0.4},{"el":"Ca","x":2.1,"v":0.41},{"el":"Ca","x":2.2,"v":0.425},{"el":"Ca","x":2.3,"v":0.43},{"el":"Ca","x":2.4,"v":0.44},{"el":"Ca","x":2.5,"v":0.445},{"el":"Ca","x":2.6,"v":0.448},{"el":"Ca","x":2.7,"v":0.455},{"el":"Ca","x":2.76,"v":0.45},{"el":"Ca","x":2.85,"v":0.458},{"el":"Ca","x":2.95,"v":0.455},{"el":"Ca","x":3.05,"v":0.445},{"el":"Ca","x":3.15,"v":0.44},{"el":"Ca","x":3.23,"v":0.425},{"el":"Ca","x":3.3,"v":0.41},{"el":"Ca","x":3.38,"v":0.4},{"el":"Ca","x":3.46,"v":0.39},{"el":"Ca","x":3.55,"v":0.375},{"el":"Ca","x":3.65,"v":0.36},{"el":"Ca","x":3.75,"v":0.35},{"el":"Ca","x":3.84,"v":0.34},{"el":"Ca","x":3.95,"v":0.32},{"el":"Ca","x":4.04,"v":0.295},{"el":"Ca","x":4.15,"v":0.28},{"el":"Ca","x":4.25,"v":0.27},{"el":"Ca","x":4.4,"v":0.26},{"el":"Ca","x":4.5,"v":0.265},{"el":"Ca","x":4.6,"v":0.25},{"el":"Ca","x":4.7,"v":0.24},{"el":"Ca","x":4.8,"v":0.25},{"el":"Ca","x":4.9,"v":0.235},{"el":"Ca","x":5.0,"v":0.22},{"el":"Ca","x":5.1,"v":0.2},{"el":"Ca","x":5.2,"v":0.18},{"el":"Ca","x":5.3,"v":0.15},{"el":"Ca","x":5.4,"v":0.13},{"el":"Ca","x":5.5,"v":0.115},{"el":"Ca","x":5.6,"v":0.105},{"el":"Ca","x":5.8,"v":0.098},{"el":"Ca","x":6.0,"v":0.09},{"el":"Ca","x":6.4,"v":0.084},{"el":"Ca","x":6.8,"v":0.078},{"el":"Ca","x":7.2,"v":0.08},{"el":"Ca","x":7.6,"v":0.074},{"el":"Ca","x":8.0,"v":0.076},{"el":"Ca","x":8.5,"v":0.07},{"el":"Ca","x":9.0,"v":0.072},{"el":"Ca","x":9.8,"v":0.068},{"el":"Ca","x":13.5,"v":0.065},{"el":"Ca","x":17.6,"v":0.062},{"el":"Ca","x":18.1,"v":0.064},{"el":"Ca","x":18.6,"v":0.06},
{"el":"Cu2","x":0.12,"v":0},{"el":"Cu2","x":0.6,"v":0.005},{"el":"Cu2","x":0.68,"v":0.05},{"el":"Cu2","x":0.75,"v":0.2},{"el":"Cu2","x":0.82,"v":0.35},{"el":"Cu2","x":0.9,"v":0.45},{"el":"Cu2","x":0.96,"v":0.494},{"el":"Cu2","x":1.05,"v":0.5},{"el":"Cu2","x":1.15,"v":0.498},{"el":"Cu2","x":1.23,"v":0.496},{"el":"Cu2","x":1.31,"v":0.472},{"el":"Cu2","x":1.42,"v":0.468},{"el":"Cu2","x":1.52,"v":0.46},{"el":"Cu2","x":1.61,"v":0.455},{"el":"Cu2","x":1.72,"v":0.445},{"el":"Cu2","x":1.85,"v":0.438},{"el":"Cu2","x":1.95,"v":0.42},{"el":"Cu2","x":2.08,"v":0.404},{"el":"Cu2","x":2.2,"v":0.385},{"el":"Cu2","x":2.31,"v":0.365},{"el":"Cu2","x":2.38,"v":0.352},{"el":"Cu2","x":2.46,"v":0.348},{"el":"Cu2","x":2.58,"v":0.338},{"el":"Cu2","x":2.69,"v":0.33},{"el":"Cu2","x":2.77,"v":0.317},{"el":"Cu2","x":2.85,"v":0.312},{"el":"Cu2","x":3.0,"v":0.305},{"el":"Cu2","x":3.1,"v":0.285},{"el":"Cu2","x":3.23,"v":0.266},{"el":"Cu2","x":3.4,"v":0.27},{"el":"Cu2","x":3.55,"v":0.262},{"el":"Cu2","x":3.69,"v":0.262},{"el":"Cu2","x":3.85,"v":0.256},{"el":"Cu2","x":4.07,"v":0.253},{"el":"Cu2","x":4.2,"v":0.248},{"el":"Cu2","x":4.3,"v":0.244},{"el":"Cu2","x":4.45,"v":0.255},{"el":"Cu2","x":4.58,"v":0.265},{"el":"Cu2","x":4.69,"v":0.262},{"el":"Cu2","x":4.8,"v":0.255},{"el":"Cu2","x":4.92,"v":0.249},{"el":"Cu2","x":5.05,"v":0.235},{"el":"Cu2","x":5.15,"v":0.22},{"el":"Cu2","x":5.23,"v":0.21},{"el":"Cu2","x":5.35,"v":0.198},{"el":"Cu2","x":5.45,"v":0.19},{"el":"Cu2","x":5.54,"v":0.185},{"el":"Cu2","x":5.7,"v":0.192},{"el":"Cu2","x":5.9,"v":0.178},{"el":"Cu2","x":6.1,"v":0.195},{"el":"Cu2","x":6.3,"v":0.176},{"el":"Cu2","x":6.5,"v":0.19},{"el":"Cu2","x":6.7,"v":0.18},{"el":"Cu2","x":6.9,"v":0.196},{"el":"Cu2","x":7.1,"v":0.182},{"el":"Cu2","x":7.3,"v":0.188},{"el":"Cu2","x":7.5,"v":0.177},{"el":"Cu2","x":7.7,"v":0.193},{"el":"Cu2","x":7.9,"v":0.178},{"el":"Cu2","x":8.1,"v":0.2},{"el":"Cu2","x":8.3,"v":0.182},{"el":"Cu2","x":8.5,"v":0.19},{"el":"Cu2","x":8.7,"v":0.176},{"el":"Cu2","x":8.9,"v":0.197},{"el":"Cu2","x":9.1,"v":0.185},{"el":"Cu2","x":9.3,"v":0.192},{"el":"Cu2","x":9.5,"v":0.178},{"el":"Cu2","x":9.7,"v":0.187},{"el":"Cu2","x":9.9,"v":0.195},{"el":"Cu2","x":10.1,"v":0.183},{"el":"Cu2","x":10.3,"v":0.19},{"el":"Cu2","x":10.5,"v":0.186},{"el":"Cu2","x":10.7,"v":0.181},{"el":"Cu2","x":10.9,"v":0.188},{"el":"Cu2","x":11.1,"v":0.184},{"el":"Cu2","x":11.3,"v":0.192},{"el":"Cu2","x":11.5,"v":0.187},{"el":"Cu2","x":11.7,"v":0.176},{"el":"Cu2","x":11.9,"v":0.19},{"el":"Cu2","x":12.1,"v":0.181},{"el":"Cu2","x":12.3,"v":0.186},{"el":"Cu2","x":12.5,"v":0.184},{"el":"Cu2","x":12.7,"v":0.188},{"el":"Cu2","x":12.9,"v":0.18},{"el":"Cu2","x":13.1,"v":0.19},{"el":"Cu2","x":13.3,"v":0.182},{"el":"Cu2","x":13.5,"v":0.189},{"el":"Cu2","x":13.7,"v":0.186},{"el":"Cu2","x":13.9,"v":0.178},{"el":"Cu2","x":14.1,"v":0.191},{"el":"Cu2","x":14.3,"v":0.189},{"el":"Cu2","x":14.5,"v":0.192},{"el":"Cu2","x":14.7,"v":0.185},{"el":"Cu2","x":14.9,"v":0.177},{"el":"Cu2","x":15.1,"v":0.191},{"el":"Cu2","x":15.3,"v":0.186},{"el":"Cu2","x":15.5,"v":0.19},{"el":"Cu2","x":15.7,"v":0.183},{"el":"Cu2","x":15.9,"v":0.189},{"el":"Cu2","x":16.1,"v":0.184},{"el":"Cu2","x":16.3,"v":0.192},{"el":"Cu2","x":16.5,"v":0.183},{"el":"Cu2","x":16.7,"v":0.19},{"el":"Cu2","x":16.9,"v":0.185},{"el":"Cu2","x":17.1,"v":0.198},{"el":"Cu2","x":17.2,"v":0.18},{"el":"Cu2","x":17.3,"v":0.196},{"el":"Cu2","x":17.45,"v":0.183},{"el":"Cu2","x":17.6,"v":0.193},{"el":"Cu2","x":17.8,"v":0.187},{"el":"Cu2","x":18.0,"v":0.179},{"el":"Cu2","x":18.2,"v":0.182},{"el":"Cu2","x":18.35,"v":0.195},{"el":"Cu2","x":18.5,"v":0.188},{"el":"Cu2","x":18.6,"v":0.193},
{"el":"Fe2","x":0.12,"v":0},{"el":"Fe2","x":0.45,"v":0.002},{"el":"Fe2","x":0.55,"v":0.02},{"el":"Fe2","x":0.65,"v":0.05},{"el":"Fe2","x":0.75,"v":0.065},{"el":"Fe2","x":0.88,"v":0.072},{"el":"Fe2","x":1.0,"v":0.077},{"el":"Fe2","x":1.15,"v":0.082},{"el":"Fe2","x":1.3,"v":0.08},{"el":"Fe2","x":1.5,"v":0.087},{"el":"Fe2","x":1.65,"v":0.084},{"el":"Fe2","x":1.77,"v":0.089},{"el":"Fe2","x":1.95,"v":0.092},{"el":"Fe2","x":2.1,"v":0.088},{"el":"Fe2","x":2.3,"v":0.095},{"el":"Fe2","x":2.54,"v":0.098},{"el":"Fe2","x":2.7,"v":0.094},{"el":"Fe2","x":2.9,"v":0.1},{"el":"Fe2","x":3.1,"v":0.097},{"el":"Fe2","x":3.3,"v":0.1},{"el":"Fe2","x":3.5,"v":0.106},{"el":"Fe2","x":3.69,"v":0.115},{"el":"Fe2","x":3.85,"v":0.125},{"el":"Fe2","x":4.0,"v":0.14},{"el":"Fe2","x":4.15,"v":0.158},{"el":"Fe2","x":4.3,"v":0.18},{"el":"Fe2","x":4.4,"v":0.2},{"el":"Fe2","x":4.5,"v":0.23},{"el":"Fe2","x":4.6,"v":0.26},{"el":"Fe2","x":4.68,"v":0.28},{"el":"Fe2","x":4.76,"v":0.295},{"el":"Fe2","x":4.84,"v":0.33},{"el":"Fe2","x":4.92,"v":0.36},{"el":"Fe2","x":5.0,"v":0.37},{"el":"Fe2","x":5.08,"v":0.385},{"el":"Fe2","x":5.15,"v":0.39},{"el":"Fe2","x":5.25,"v":0.398},{"el":"Fe2","x":5.38,"v":0.408},{"el":"Fe2","x":5.5,"v":0.42},{"el":"Fe2","x":5.6,"v":0.43},{"el":"Fe2","x":5.69,"v":0.437},{"el":"Fe2","x":5.8,"v":0.445},{"el":"Fe2","x":5.92,"v":0.459},{"el":"Fe2","x":6.0,"v":0.44},{"el":"Fe2","x":6.08,"v":0.45},{"el":"Fe2","x":6.15,"v":0.455},{"el":"Fe2","x":6.25,"v":0.46},{"el":"Fe2","x":6.38,"v":0.476},{"el":"Fe2","x":6.5,"v":0.47},{"el":"Fe2","x":6.61,"v":0.485},{"el":"Fe2","x":6.72,"v":0.47},{"el":"Fe2","x":6.84,"v":0.463},{"el":"Fe2","x":6.95,"v":0.472},{"el":"Fe2","x":7.07,"v":0.476},{"el":"Fe2","x":7.2,"v":0.468},{"el":"Fe2","x":7.3,"v":0.459},{"el":"Fe2","x":7.42,"v":0.472},{"el":"Fe2","x":7.53,"v":0.485},{"el":"Fe2","x":7.65,"v":0.48},{"el":"Fe2","x":7.8,"v":0.49},{"el":"Fe2","x":7.92,"v":0.502},{"el":"Fe2","x":8.05,"v":0.49},{"el":"Fe2","x":8.15,"v":0.485},{"el":"Fe2","x":8.3,"v":0.495},{"el":"Fe2","x":8.42,"v":0.488},{"el":"Fe2","x":8.53,"v":0.502},{"el":"Fe2","x":8.61,"v":0.502},{"el":"Fe2","x":8.76,"v":0.493},{"el":"Fe2","x":8.9,"v":0.498},{"el":"Fe2","x":9.07,"v":0.502},{"el":"Fe2","x":9.15,"v":0.49},{"el":"Fe2","x":9.3,"v":0.472},{"el":"Fe2","x":9.45,"v":0.49},{"el":"Fe2","x":9.61,"v":0.502},{"el":"Fe2","x":9.75,"v":0.495},{"el":"Fe2","x":9.92,"v":0.485},{"el":"Fe2","x":10.05,"v":0.49},{"el":"Fe2","x":10.23,"v":0.498},{"el":"Fe2","x":10.38,"v":0.51},{"el":"Fe2","x":10.5,"v":0.524},{"el":"Fe2","x":10.6,"v":0.505},{"el":"Fe2","x":10.69,"v":0.498},{"el":"Fe2","x":10.85,"v":0.505},{"el":"Fe2","x":10.95,"v":0.5},{"el":"Fe2","x":11.07,"v":0.511},{"el":"Fe2","x":11.2,"v":0.518},{"el":"Fe2","x":11.3,"v":0.524},{"el":"Fe2","x":11.42,"v":0.515},{"el":"Fe2","x":11.53,"v":0.507},{"el":"Fe2","x":11.7,"v":0.502},{"el":"Fe2","x":11.84,"v":0.5},{"el":"Fe2","x":11.95,"v":0.502},{"el":"Fe2","x":12.1,"v":0.5},{"el":"Fe2","x":12.25,"v":0.503},{"el":"Fe2","x":12.38,"v":0.507},{"el":"Fe2","x":12.5,"v":0.515},{"el":"Fe2","x":12.61,"v":0.524},{"el":"Fe2","x":12.75,"v":0.516},{"el":"Fe2","x":12.92,"v":0.528},{"el":"Fe2","x":13.05,"v":0.52},{"el":"Fe2","x":13.15,"v":0.511},{"el":"Fe2","x":13.3,"v":0.511},{"el":"Fe2","x":13.42,"v":0.516},{"el":"Fe2","x":13.53,"v":0.502},{"el":"Fe2","x":13.7,"v":0.512},{"el":"Fe2","x":13.84,"v":0.524},{"el":"Fe2","x":14.0,"v":0.517},{"el":"Fe2","x":14.15,"v":0.515},{"el":"Fe2","x":14.3,"v":0.52},{"el":"Fe2","x":14.46,"v":0.524},{"el":"Fe2","x":14.6,"v":0.519},{"el":"Fe2","x":14.76,"v":0.52},{"el":"Fe2","x":14.92,"v":0.502},{"el":"Fe2","x":15.05,"v":0.515},{"el":"Fe2","x":15.15,"v":0.528},{"el":"Fe2","x":15.25,"v":0.52},{"el":"Fe2","x":15.38,"v":0.511},{"el":"Fe2","x":15.5,"v":0.505},{"el":"Fe2","x":15.61,"v":0.498},{"el":"Fe2","x":15.75,"v":0.512},{"el":"Fe2","x":15.92,"v":0.528},{"el":"Fe2","x":16.05,"v":0.52},{"el":"Fe2","x":16.15,"v":0.511},{"el":"Fe2","x":16.3,"v":0.514},{"el":"Fe2","x":16.42,"v":0.512},{"el":"Fe2","x":16.53,"v":0.515},{"el":"Fe2","x":16.7,"v":0.51},{"el":"Fe2","x":16.8,"v":0.516},{"el":"Fe2","x":16.92,"v":0.511},{"el":"Fe2","x":17.05,"v":0.515},{"el":"Fe2","x":17.15,"v":0.52},{"el":"Fe2","x":17.22,"v":0.52},{"el":"Fe2","x":17.35,"v":0.51},{"el":"Fe2","x":17.45,"v":0.507},{"el":"Fe2","x":17.55,"v":0.52},{"el":"Fe2","x":17.68,"v":0.524},{"el":"Fe2","x":17.8,"v":0.515},{"el":"Fe2","x":17.92,"v":0.511},{"el":"Fe2","x":18.05,"v":0.52},{"el":"Fe2","x":18.14,"v":0.533},{"el":"Fe2","x":18.25,"v":0.525},{"el":"Fe2","x":18.37,"v":0.52},{"el":"Fe2","x":18.45,"v":0.528},{"el":"Fe2","x":18.53,"v":0.533},{"el":"Fe2","x":18.6,"v":0.511},
{"el":"Na","x":0.12,"v":0.003},{"el":"Na","x":0.6,"v":0.005},{"el":"Na","x":0.8,"v":0.03},{"el":"Na","x":0.9,"v":0.1},{"el":"Na","x":1.0,"v":0.2},{"el":"Na","x":1.1,"v":0.3},{"el":"Na","x":1.2,"v":0.4},{"el":"Na","x":1.3,"v":0.48},{"el":"Na","x":1.4,"v":0.56},{"el":"Na","x":1.5,"v":0.63},{"el":"Na","x":1.6,"v":0.7},{"el":"Na","x":1.7,"v":0.78},{"el":"Na","x":1.85,"v":0.9},{"el":"Na","x":1.95,"v":0.97},{"el":"Na","x":2.08,"v":1.03},{"el":"Na","x":2.2,"v":1.07},{"el":"Na","x":2.27,"v":1.08},{"el":"Na","x":2.39,"v":1.067},{"el":"Na","x":2.5,"v":1.09},{"el":"Na","x":2.58,"v":1.105},{"el":"Na","x":2.65,"v":1.12},{"el":"Na","x":2.75,"v":1.105},{"el":"Na","x":2.92,"v":1.088},{"el":"Na","x":3.05,"v":1.05},{"el":"Na","x":3.23,"v":1.014},{"el":"Na","x":3.3,"v":1.0},{"el":"Na","x":3.38,"v":0.975},{"el":"Na","x":3.45,"v":0.96},{"el":"Na","x":3.54,"v":0.94},{"el":"Na","x":3.65,"v":0.9},{"el":"Na","x":3.77,"v":0.855},{"el":"Na","x":3.9,"v":0.79},{"el":"Na","x":4.0,"v":0.726},{"el":"Na","x":4.08,"v":0.6},{"el":"Na","x":4.15,"v":0.45},{"el":"Na","x":4.22,"v":0.33},{"el":"Na","x":4.3,"v":0.28},{"el":"Na","x":4.38,"v":0.3},{"el":"Na","x":4.45,"v":0.5},{"el":"Na","x":4.5,"v":0.75},{"el":"Na","x":4.55,"v":0.95},{"el":"Na","x":4.62,"v":1.02},{"el":"Na","x":4.71,"v":1.045},{"el":"Na","x":4.78,"v":1.0},{"el":"Na","x":4.85,"v":0.85},{"el":"Na","x":4.92,"v":0.7},{"el":"Na","x":5.0,"v":0.55},{"el":"Na","x":5.1,"v":0.35},{"el":"Na","x":5.2,"v":0.18},{"el":"Na","x":5.3,"v":0.1},{"el":"Na","x":5.5,"v":0.06},{"el":"Na","x":6.0,"v":0.04},{"el":"Na","x":8.0,"v":0.03},{"el":"Na","x":12.0,"v":0.025},{"el":"Na","x":18.6,"v":0.025},
{"el":"Bi","x":0.12,"v":0},{"el":"Bi","x":0.45,"v":0.005},{"el":"Bi","x":0.55,"v":0.05},{"el":"Bi","x":0.61,"v":0.175},{"el":"Bi","x":0.7,"v":0.25},{"el":"Bi","x":0.77,"v":0.305},{"el":"Bi","x":0.85,"v":0.37},{"el":"Bi","x":0.92,"v":0.43},{"el":"Bi","x":0.96,"v":0.554},{"el":"Bi","x":1.0,"v":0.63},{"el":"Bi","x":1.08,"v":0.69},{"el":"Bi","x":1.15,"v":0.698},{"el":"Bi","x":1.25,"v":0.695},{"el":"Bi","x":1.38,"v":0.685},{"el":"Bi","x":1.5,"v":0.66},{"el":"Bi","x":1.6,"v":0.635},{"el":"Bi","x":1.69,"v":0.61},{"el":"Bi","x":1.78,"v":0.6},{"el":"Bi","x":1.88,"v":0.597},{"el":"Bi","x":1.98,"v":0.58},{"el":"Bi","x":2.08,"v":0.563},{"el":"Bi","x":2.2,"v":0.548},{"el":"Bi","x":2.31,"v":0.537},{"el":"Bi","x":2.42,"v":0.52},{"el":"Bi","x":2.5,"v":0.51},{"el":"Bi","x":2.61,"v":0.47},{"el":"Bi","x":2.69,"v":0.495},{"el":"Bi","x":2.75,"v":0.478},{"el":"Bi","x":2.8,"v":0.468},{"el":"Bi","x":2.86,"v":0.455},{"el":"Bi","x":2.92,"v":0.433},{"el":"Bi","x":3.0,"v":0.437},{"el":"Bi","x":3.08,"v":0.428},{"el":"Bi","x":3.15,"v":0.425},{"el":"Bi","x":3.22,"v":0.418},{"el":"Bi","x":3.3,"v":0.412},{"el":"Bi","x":3.38,"v":0.408},{"el":"Bi","x":3.45,"v":0.4},{"el":"Bi","x":3.53,"v":0.402},{"el":"Bi","x":3.61,"v":0.395},{"el":"Bi","x":3.7,"v":0.39},{"el":"Bi","x":3.77,"v":0.392},{"el":"Bi","x":3.84,"v":0.386},{"el":"Bi","x":3.95,"v":0.377},{"el":"Bi","x":4.07,"v":0.369},{"el":"Bi","x":4.18,"v":0.362},{"el":"Bi","x":4.3,"v":0.356},{"el":"Bi","x":4.38,"v":0.347},{"el":"Bi","x":4.46,"v":0.33},{"el":"Bi","x":4.54,"v":0.296},{"el":"Bi","x":4.6,"v":0.24},{"el":"Bi","x":4.7,"v":0.218},{"el":"Bi","x":4.84,"v":0.21},{"el":"Bi","x":4.95,"v":0.2},{"el":"Bi","x":5.07,"v":0.197},{"el":"Bi","x":5.15,"v":0.183},{"el":"Bi","x":5.23,"v":0.175},{"el":"Bi","x":5.35,"v":0.168},{"el":"Bi","x":5.45,"v":0.16},{"el":"Bi","x":5.54,"v":0.158},{"el":"Bi","x":5.65,"v":0.152},{"el":"Bi","x":5.75,"v":0.154},{"el":"Bi","x":5.84,"v":0.15},{"el":"Bi","x":5.95,"v":0.142},{"el":"Bi","x":6.05,"v":0.14},{"el":"Bi","x":6.15,"v":0.137},{"el":"Bi","x":6.3,"v":0.132},{"el":"Bi","x":6.45,"v":0.13},{"el":"Bi","x":6.6,"v":0.126},{"el":"Bi","x":6.75,"v":0.127},{"el":"Bi","x":6.92,"v":0.124},{"el":"Bi","x":7.05,"v":0.118},{"el":"Bi","x":7.2,"v":0.12},{"el":"Bi","x":7.38,"v":0.115},{"el":"Bi","x":7.55,"v":0.112},{"el":"Bi","x":7.7,"v":0.114},{"el":"Bi","x":7.9,"v":0.109},{"el":"Bi","x":8.07,"v":0.111},{"el":"Bi","x":8.25,"v":0.108},{"el":"Bi","x":8.45,"v":0.102},{"el":"Bi","x":8.6,"v":0.106},{"el":"Bi","x":8.8,"v":0.1},{"el":"Bi","x":9.0,"v":0.099},{"el":"Bi","x":9.23,"v":0.098},{"el":"Bi","x":9.4,"v":0.104},{"el":"Bi","x":9.6,"v":0.111},{"el":"Bi","x":9.8,"v":0.1},{"el":"Bi","x":10.2,"v":0.097},{"el":"Bi","x":12.0,"v":0.092},{"el":"Bi","x":14.0,"v":0.089},{"el":"Bi","x":16.0,"v":0.086},{"el":"Bi","x":17.5,"v":0.085},{"el":"Bi","x":17.84,"v":0.081},{"el":"Bi","x":18.1,"v":0.084},{"el":"Bi","x":18.35,"v":0.078},{"el":"Bi","x":18.6,"v":0.077}
],
"tags":[
{"el":"Ca","x":2.43,"v":0.417,"label":"Ca"},{"el":"P","x":2.31,"v":0.16,"label":"P"},{"el":"Bi","x":7.55,"v":0.13,"label":"Bi"},{"el":"Fe2","x":10.69,"v":0.534,"label":"Fe2"},{"el":"Cu2","x":11.73,"v":0.173,"label":"Cu2"},{"el":"Cr1","x":4.57,"v":0.137,"label":"Cr1"},{"el":"Nb","x":7.6,"v":0.108,"label":"Nb"}
],
"edges":[
{"kind":"outer","x":-1.354,"v":1.182,"x2":18.62,"v2":1.182},
{"kind":"outer","x":-1.354,"v":1.182,"x2":-1.354,"v2":-0.05},
{"kind":"base","x":-1.2,"v":-0.0465,"x2":18.7,"v2":-0.0465}
],
"frames":[
{"kind":"inset","x":11.564,"v":1.182,"x2":18.532,"v2":0.5458},
{"kind":"zone","x":-0.4775,"v":0.5574,"x2":9.119,"v2":-0.0413}
],
"boxes":[
{"kind":"Na","x":2.406,"v":0.9394,"x2":4.113,"v2":0.8684},
{"kind":"Ca","x":3.636,"v":0.5187,"x2":5.343,"v2":0.443},
{"kind":"P","x":2.291,"v":0.3058,"x2":3.575,"v2":0.2439},
{"kind":"Fe","x":10.634,"v":0.372,"x2":17.354,"v2":0.2667},
{"kind":"low","x":9.649,"v":0.1174,"x2":17.762,"v2":0.0013}
],
"boxlabels":[
{"x":3.259,"v":0.9032,"label":"Na"},{"x":4.49,"v":0.4813,"label":"Ca"},{"x":2.933,"v":0.2748,"label":"P"}
],
"notes":[
{"x":11.056,"v":0.3394,"label":"Fe jelintenzitása az acél"},
{"x":11.056,"v":0.2942,"label":"hordozóban/alapban"},
{"x":10.072,"v":0.0852,"label":"Igen alacsony jelintenzitással"},
{"x":10.072,"v":0.0378,"label":"detektált elemek tartománya"}
],
"heading":[
{"x":0.261,"v":1.1665,"label":"10 mg Mg"}
],
"rings":[
{"kind":"big","x":1.463,"v":0.1497},{"kind":"small","x":4.759,"v":0.0729}
],
"arrows":[
{"kind":"red","x":12.025,"v":0.378,"x2":12.51,"v2":0.493},
{"kind":"red","x":15.486,"v":0.3716,"x2":17.124,"v2":0.799},
{"kind":"brown","x":3.575,"v":0.3045,"x2":12.655,"v2":0.6369},
{"kind":"brown","x":3.652,"v":0.2748,"x2":14.607,"v2":0.594},
{"kind":"brown","x":2.307,"v":0.2426,"x2":1.903,"v2":0.2062},
{"kind":"brown","x":3.075,"v":0.2426,"x2":4.867,"v2":0.0836},
{"kind":"black","x":2.406,"v":0.8697,"x2":1.723,"v2":0.829},
{"kind":"black","x":4.189,"v":0.8723,"x2":4.621,"v2":0.8312},
{"kind":"thin","x":3.636,"v":0.4439,"x2":1.573,"v2":0.3103},
{"kind":"thin","x":9.142,"v":0.5626,"x2":11.483,"v2":0.6973}
]
},
"resolve":{"scale":{"x":"independent","y":"independent"}},
"layer":[
{
"encoding":{
"x":{"field":"x","type":"quantitative","scale":{"domain":[0.122,18.714],"nice":false,"zero":false},
"axis":{"values":[1,2,3,4,5,6,7,8,9,10,11,12,13,14,15,16,17,18],"format":"d","title":null,"grid":false,"labelFont":"Liberation Serif","labelFontSize":12,"labelColor":"#666666","domainColor":"#8a8a8a","domainWidth":1.5,"tickColor":"#8a8a8a","tickSize":4,"labelPadding":3,"labelFlush":false}},
"y":{"field":"v","type":"quantitative","scale":{"domain":[-0.0077,1.1497],"nice":false,"zero":false},
"axis":{"values":[0,0.1,0.2,0.3,0.4,0.5,0.6,0.7,0.8,0.9,1,1.1],"format":".1~f","title":"V","titleAngle":0,"titleX":-9,"titleY":4,"titleAlign":"center","titleBaseline":"middle","titleFont":"Liberation Serif","titleFontSize":13,"titleFontWeight":"bold","titleColor":"#666666","grid":false,"labelFont":"Liberation Serif","labelFontSize":11,"labelColor":"#666666","domainColor":"#8a8a8a","domainWidth":1.5,"tickColor":"#8a8a8a","tickSize":3,"labelPadding":1,"labelFlush":false}}
},
"layer":[
{"data":{"name":"edges"},"transform":[{"filter":"datum.kind == 'outer'"}],"mark":{"type":"rule","color":"#8c8c8c","strokeWidth":1.5,"clip":false},"encoding":{"x2":{"field":"x2"},"y2":{"field":"v2"}}},
{"data":{"name":"edges"},"transform":[{"filter":"datum.kind == 'base'"}],"mark":{"type":"rule","color":"#111111","strokeWidth":4,"clip":false},"encoding":{"x2":{"field":"x2"},"y2":{"field":"v2"}}},
{"data":{"name":"heading"},"mark":{"type":"text","font":"Liberation Serif","fontSize":12,"fontWeight":"bold","color":"#3ea2c8","align":"left","baseline":"middle","clip":false},"encoding":{"text":{"field":"label"}}},
{"data":{"name":"profiles"},"transform":[{"filter":"datum.el == 'Na'"}],"mark":{"type":"line","strokeWidth":1.6},
"encoding":{"color":{"field":"el","type":"nominal",
"scale":{"domain":["H","O","Cl","Mg","N","C","Nb","Ag","Zr","Ni","Co","P","Ta","Ti","Sn","Mo","Ca","Al","V","Ga","Cr1","W","Pb","In","Ba","Cd","As","Zn","Au","B","Cu1","Mn","Cr2","S","Si","Na","Bi","Li","F","K","Fe2","Cu2"],
"range":["#2e8b2e","#ff00ff","#b894f0","#7a1f6a","#8a2a8a","#151515","#8cc8c0","#2f7fe0","#ff7f7f","#11e0e0","#238b23","#a0283c","#2a8fd0","#1f7a7a","#e08ae8","#2f4f4f","#9aaa30","#ff8c1a","#ff99dd","#2d6b5a","#2a6aa8","#ff1f5f","#b88a8a","#a89a2a","#3d1f3d","#ffc0c0","#1f1f7f","#2f4fff","#2f8fd8","#8a3fff","#c8861e","#f5a040","#2f4f8f","#9a9aff","#2fd02f","#dccbd9","#3b2f99","#ff2f2f","#4f8f6f","#eeee00","#ff2448","#c49a45"]},
"legend":{"orient":"none","legendX":811,"legendY":-20,"title":null,"padding":0,"symbolLimit":60,"symbolType":"stroke","symbolStrokeWidth":2,"symbolSize":700,"rowPadding":1.0,"labelFont":"Liberation Serif","labelFontSize":12,"labelOffset":1,"labelLimit":60,"encode":{"labels":{"update":{"fill":{"scale":"color","field":"value"}}}}}}}},
{"data":{"name":"profiles"},"transform":[{"filter":"datum.el != 'Na' && datum.el != 'Bi'"}],"mark":{"type":"line","strokeWidth":1.8},"encoding":{"color":{"field":"el","type":"nominal"}}},
{"data":{"name":"profiles"},"transform":[{"filter":"datum.el == 'Bi'"}],"mark":{"type":"line","strokeWidth":2.5},"encoding":{"color":{"field":"el","type":"nominal"}}},
{"data":{"name":"tags"},"mark":{"type":"text","font":"Liberation Serif","fontSize":11,"align":"center","baseline":"middle","opacity":0.85},"encoding":{"text":{"field":"label"},"color":{"field":"el","type":"nominal"}}},
{"data":{"name":"frames"},"transform":[{"filter":"datum.kind == 'inset'"}],"mark":{"type":"rect","fill":"#f7f7f7","stroke":"#000000","strokeWidth":4.5,"clip":false},"encoding":{"x2":{"field":"x2"},"y2":{"field":"v2"}}}
]
},
{
"encoding":{
"x":{"field":"x","type":"quantitative","scale":{"domain":[0.1,11.52],"range":[532,790],"nice":false,"zero":false},
"axis":{"orient":"bottom","offset":-441,"zindex":1,"values":[1,2,3,4,5,6,7,8,9,10,11],"format":"d","title":null,"grid":false,"labelFont":"Liberation Serif","labelFontSize":7,"labelColor":"#555555","domainColor":"#999999","tickColor":"#999999","tickSize":2,"labelPadding":2,"labelFlush":false}},
"y":{"field":"v","type":"quantitative","scale":{"domain":[0,1.14],"range":[455,-9],"nice":false,"zero":false},
"axis":{"orient":"left","offset":-532,"zindex":1,"values":[0,0.1,0.2,0.3,0.4,0.5,0.6,0.7,0.8,0.9,1,1.1],"format":".1~f","title":"V","titleAngle":0,"titleX":-6,"titleY":-8,"titleAlign":"center","titleBaseline":"middle","titleFont":"Liberation Serif","titleFontSize":8,"titleColor":"#555555","grid":false,"labelFont":"Liberation Serif","labelFontSize":7,"labelColor":"#555555","domainColor":"#999999","tickColor":"#999999","tickSize":2,"labelPadding":1,"labelFlush":false}}
},
"layer":[
{"data":{"name":"profiles"},"transform":[{"filter":"(datum.el == 'P' || datum.el == 'Fe2') && datum.x <= 11.45"}],"mark":{"type":"line","strokeWidth":1.4},"encoding":{"color":{"field":"el","type":"nominal"}}},
{"data":{"values":[{"x":0.985,"v":1.16,"label":"10 mg Mg"}]},"mark":{"type":"text","font":"Liberation Serif","fontSize":7,"fontWeight":"bold","color":"#3ea2c8","align":"center","baseline":"middle","clip":false},"encoding":{"text":{"field":"label"}}}
]
},
{
"encoding":{
"x":{"field":"x","type":"quantitative","scale":{"domain":[0.122,18.714],"nice":false,"zero":false},"axis":null},
"y":{"field":"v","type":"quantitative","scale":{"domain":[-0.0077,1.1497],"nice":false,"zero":false},"axis":null}
},
"layer":[
{"data":{"name":"frames"},"transform":[{"filter":"datum.kind == 'zone'"}],"mark":{"type":"rect","filled":false,"stroke":"#000000","strokeWidth":4,"clip":false},"encoding":{"x2":{"field":"x2"},"y2":{"field":"v2"}}},
{"data":{"name":"boxes"},"mark":{"type":"rect","stroke":"#454545","strokeWidth":1.5,"opacity":1,"clip":false},"encoding":{"x2":{"field":"x2"},"y2":{"field":"v2"},
"fill":{"field":"kind","type":"nominal","legend":null,"scale":{"domain":["Na","Ca","P","Fe","low"],"range":["#cbc0de","#77933c","#a33c10","#ffffff","#ffffff"]}}}},
{"data":{"name":"boxlabels"},"mark":{"type":"text","font":"Lato","fontSize":20,"color":"#1e1e2e","align":"center","baseline":"middle"},"encoding":{"text":{"field":"label"}}},
{"data":{"name":"notes"},"mark":{"type":"text","font":"Lato","fontSize":20,"color":"#111111","align":"left","baseline":"middle"},"encoding":{"text":{"field":"label"}}},
{"data":{"name":"rings"},"transform":[{"filter":"datum.kind == 'big'"}],"mark":{"type":"point","shape":"circle","filled":false,"stroke":"#1f2d6e","strokeWidth":3.5,"size":16900,"opacity":1,"clip":false}},
{"data":{"name":"rings"},"transform":[{"filter":"datum.kind == 'small'"}],"mark":{"type":"point","shape":"circle","filled":false,"stroke":"#1f2d6e","strokeWidth":3.5,"size":7569,"opacity":1,"clip":false}},
{"data":{"name":"arrows"},"mark":{"type":"rule","clip":false},"encoding":{"x2":{"field":"x2"},"y2":{"field":"v2"},
"stroke":{"field":"kind","type":"nominal","legend":null,"scale":{"domain":["red","brown","black","thin"],"range":["#ff0000","#a33c10","#111111","#111111"]}},
"strokeWidth":{"field":"kind","type":"nominal","legend":null,"scale":{"type":"ordinal","domain":["red","brown","black","thin"],"range":[5,4.5,1.8,1.2]}}}},
{"data":{"name":"arrows"},"transform":[{"filter":"datum.kind == 'red'"},{"calculate":"datum.x2","as":"hx"},{"calculate":"datum.v2","as":"hv"},{"calculate":"atan2((datum.x2 - datum.x) * 43.3, (datum.v2 - datum.v) * 775) * 180 / PI","as":"heading"}],
"mark":{"type":"point","shape":"M0,-1L0.62,0.8L-0.62,0.8Z","filled":true,"color":"#ff0000","size":420,"opacity":1,"strokeWidth":0,"clip":false},
"encoding":{"x":{"field":"hx","type":"quantitative"},"y":{"field":"hv","type":"quantitative"},"angle":{"field":"heading","type":"quantitative","scale":null}}},
{"data":{"name":"arrows"},"transform":[{"filter":"datum.kind == 'brown'"},{"calculate":"datum.x2","as":"hx"},{"calculate":"datum.v2","as":"hv"},{"calculate":"atan2((datum.x2 - datum.x) * 43.3, (datum.v2 - datum.v) * 775) * 180 / PI","as":"heading"}],
"mark":{"type":"point","shape":"M0,-1L0.62,0.8L-0.62,0.8Z","filled":true,"color":"#a33c10","size":260,"opacity":1,"strokeWidth":0,"clip":false},
"encoding":{"x":{"field":"hx","type":"quantitative"},"y":{"field":"hv","type":"quantitative"},"angle":{"field":"heading","type":"quantitative","scale":null}}},
{"data":{"name":"arrows"},"transform":[{"filter":"datum.kind == 'black'"},{"calculate":"datum.x2","as":"hx"},{"calculate":"datum.v2","as":"hv"},{"calculate":"atan2((datum.x2 - datum.x) * 43.3, (datum.v2 - datum.v) * 775) * 180 / PI","as":"heading"}],
"mark":{"type":"point","shape":"M0,-1L0.62,0.8L-0.62,0.8Z","filled":true,"color":"#111111","size":200,"opacity":1,"strokeWidth":0,"clip":false},
"encoding":{"x":{"field":"hx","type":"quantitative"},"y":{"field":"hv","type":"quantitative"},"angle":{"field":"heading","type":"quantitative","scale":null}}},
{"data":{"name":"arrows"},"transform":[{"filter":"datum.kind == 'thin'"},{"calculate":"datum.x2","as":"hx"},{"calculate":"datum.v2","as":"hv"},{"calculate":"atan2((datum.x2 - datum.x) * 43.3, (datum.v2 - datum.v) * 775) * 180 / PI","as":"heading"}],
"mark":{"type":"point","shape":"M0,-1L0.62,0.8L-0.62,0.8Z","filled":true,"color":"#111111","size":120,"opacity":1,"strokeWidth":0,"clip":false},
"encoding":{"x":{"field":"hx","type":"quantitative"},"y":{"field":"hv","type":"quantitative"},"angle":{"field":"heading","type":"quantitative","scale":null}}}
]
}
]
}
